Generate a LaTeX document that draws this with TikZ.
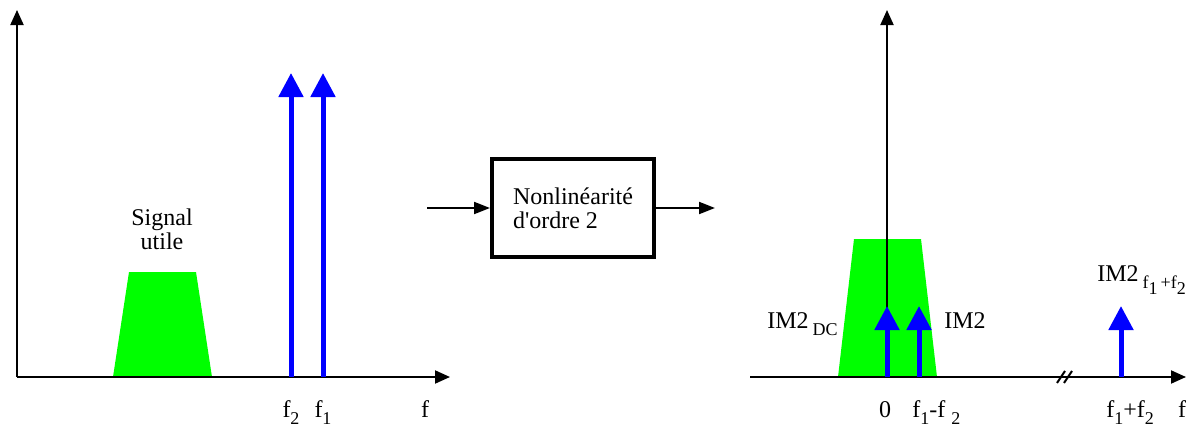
\documentclass[tikz,border=0pt]{standalone}
\usepackage{fontspec}
\setmainfont{Liberation Serif}
\usetikzlibrary{arrows.meta,positioning}
\newcommand{\fsub}[1]{\raisebox{-0.7ex}{\fontsize{9}{9}\selectfont #1}}

\begin{document}
\begin{tikzpicture}[x=0.5pt,y=-0.5pt,
  font=\fontsize{12}{12}\selectfont,
  axis/.style={line width=1pt,-{Triangle[length=7.5pt,width=6.5pt]}},
  flow/.style={line width=1pt,-{Triangle[length=8pt,width=6pt]}},
  spike/.style={blue,line width=2.5pt,-{Triangle[length=12pt,width=12pt]}},
  band/.style={fill=green,draw=none},
  lbl/.style={anchor=base,inner sep=0pt},
  block/.style={draw,line width=2pt,minimum width=81pt,minimum height=49pt,align=left}]
\useasboundingbox (0,0) rectangle (1189,428);

% Left spectrum
\coordinate (O1) at (17,377);
\coordinate (Y1) at (17,10);
\coordinate (X1) at (450,377);
\fill[band] (113,377) -- (129,272) -- (196,272) -- (212,377) -- cycle;
\draw[axis] (O1) -- (Y1);
\draw[axis] (O1) -- (X1);
\node[align=center] (sig) at (162,229) {Signal\\utile};
\foreach \n/\x in {ftwo/291,fone/323} {
  \coordinate (\n b) at (\x,377);
  \coordinate (\n t) at (\x,73);
  \draw[spike] (\n b) -- (\n t);
}
\node[lbl] (lftwo) at (291,417) {f\fsub{2}};
\node[lbl] (lfone) at (323,417) {f\fsub{1}};
\node[lbl] (lf) at (425,417) {f};

% Block
\node[block] (nl) at (573,208) {Nonlinéarité\\d\textquotesingle ordre 2};
\coordinate (in) at (427,208);
\coordinate (out) at (715,208);
\draw[flow] (in) -- (nl);
\draw[flow] (nl) -- (out);

% Right spectrum
\coordinate (O2) at (887,377);
\coordinate (Y2) at (887,10);
\coordinate (X2a) at (750,377);
\coordinate (X2) at (1186,377);
\fill[band] (838,377) -- (854,239) -- (921,239) -- (937,377) -- cycle;
\draw[axis] (X2a) -- (X2);
\draw[axis] (O2) -- (Y2);
\foreach \n/\x in {dc/887,diff/919,sum/1121} {
  \coordinate (\n b) at (\x,377);
  \coordinate (\n t) at (\x,306);
  \draw[spike] (\n b) -- (\n t);
}
% Axis break
\draw[line width=1pt] (1057,383) -- (1065,371) (1064,383) -- (1072,371);
\node[lbl,anchor=base west] (im2dc) at (767,328) {IM2\,\fsub{DC}};
\node[lbl,anchor=base west] (im2) at (944,328) {IM2};
\node[lbl,anchor=base west] (im2sum) at (1097,281) {IM2\,\fsub{f\fsub{1}\,+f\fsub{2}}};
\node[lbl] (lzero) at (885,417) {0};
\node[lbl,anchor=base west] (ldiff) at (912,417) {f\fsub{1}-f \fsub{2}};
\node[lbl,anchor=base west] (lsum) at (1106,417) {f\fsub{1}+f\fsub{2}};
\node[lbl] (lf2) at (1182,417) {f};
\end{tikzpicture}
\end{document}
